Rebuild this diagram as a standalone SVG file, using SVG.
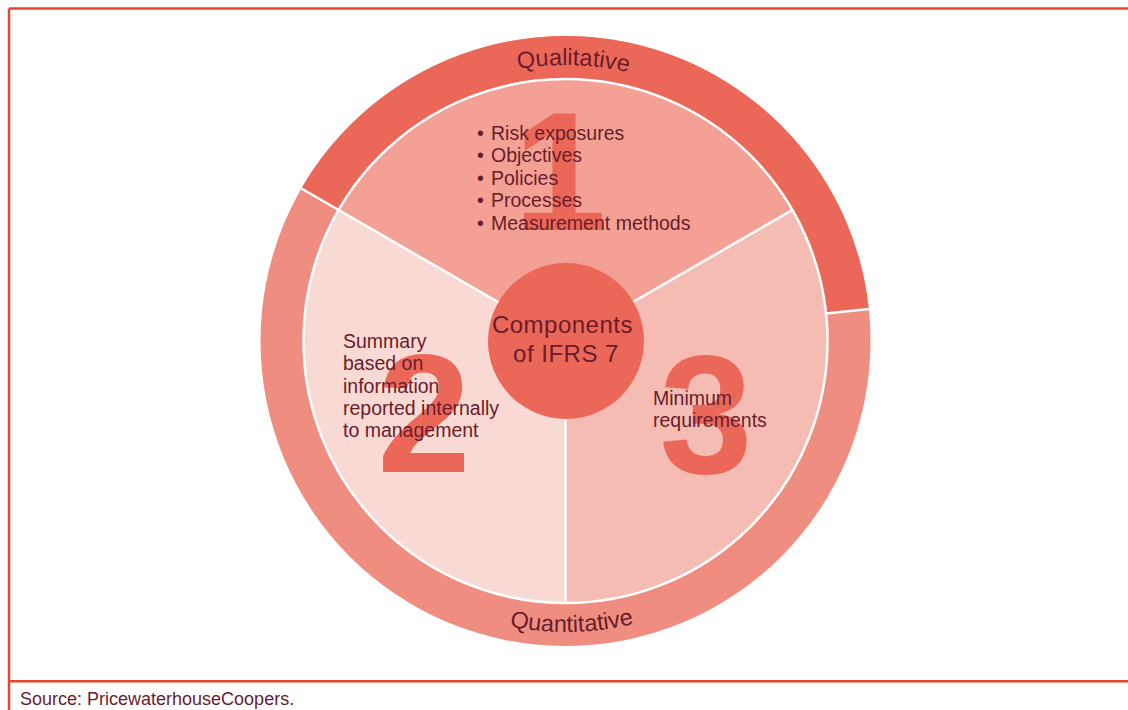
<svg xmlns="http://www.w3.org/2000/svg" width="1128" height="710" viewBox="0 0 1128 710">
  <style>
    .lbl { font-family: "Liberation Sans", Arial, sans-serif; fill: #6B1C2A; }
    .body { font-size: 19.5px; }
    .ring { font-size: 23.5px; }
    .num { font-family: "Liberation Sans", Arial, sans-serif; font-weight: bold; font-size: 168px; fill: #EB6859; text-anchor: middle; }
    .sep { stroke: #FFFFFF; stroke-width: 2.5; fill: none; }
    .frame { stroke: #E8452F; stroke-width: 2.5; fill: none; }
  </style>
  <defs>
    <path id="arcTop" d="M 289.5 341 A 276 276 0 0 1 841.5 341"/>
    <path id="arcBottom" d="M 274.5 341 A 291 291 0 0 0 856.5 341"/>
  </defs>
  <rect width="1128" height="710" fill="#FFFFFF"/>

  <g id="frame">
    <line class="frame" x1="9" y1="8.5" x2="1128" y2="8.5"/>
    <line class="frame" x1="9" y1="8.5" x2="9" y2="710"/>
    <line class="frame" x1="9" y1="681.3" x2="1128" y2="681.3"/>
  </g>

  <g id="ring">
    <circle cx="565.5" cy="341" r="305" fill="#EF8E80"/>
    <path id="ring-qualitative" d="M 301.4 188.5 A 305 305 0 0 1 868.8 309.1 L 826.1 313.6 A 262 262 0 0 0 338.6 210 Z" fill="#EB6859"/>
    <text class="lbl ring"><textPath href="#arcTop" startOffset="50.9%" text-anchor="middle">Qualitative</textPath></text>
    <text class="lbl ring"><textPath href="#arcBottom" startOffset="50.7%" text-anchor="middle">Quantitative</textPath></text>
  </g>

  <g id="segment-1">
    <path d="M 565.5 341 L 338.6 210 A 262 262 0 0 1 792.4 210 Z" fill="#F2A194"/>
  </g>
  <g id="segment-3">
    <path d="M 565.5 341 L 792.4 210 A 262 262 0 0 1 565.5 603 Z" fill="#F5BCB4"/>
  </g>
  <g id="segment-2">
    <path d="M 565.5 341 L 565.5 603 A 262 262 0 0 1 338.6 210 Z" fill="#F8D9D4"/>
  </g>

  <g id="separators">
    <circle class="sep" cx="565.5" cy="341" r="262"/>
    <line class="sep" x1="565.5" y1="341" x2="301.4" y2="188.5"/>
    <line class="sep" x1="565.5" y1="341" x2="792.4" y2="210"/>
    <line class="sep" x1="565.5" y1="341" x2="565.5" y2="603"/>
    <line class="sep" x1="826.1" y1="313.6" x2="868.8" y2="309.1"/>
  </g>

  <g id="segment-1-content">
    <text class="num" x="560" y="230">1</text>
    <text class="lbl body"><tspan x="477" y="139.5">•</tspan><tspan x="491" y="139.5">Risk exposures</tspan></text>
    <text class="lbl body"><tspan x="477" y="162">•</tspan><tspan x="491" y="162">Objectives</tspan></text>
    <text class="lbl body"><tspan x="477" y="184.5">•</tspan><tspan x="491" y="184.5">Policies</tspan></text>
    <text class="lbl body"><tspan x="477" y="207">•</tspan><tspan x="491" y="207">Processes</tspan></text>
    <text class="lbl body"><tspan x="477" y="229.5">•</tspan><tspan x="491" y="229.5">Measurement methods</tspan></text>
  </g>

  <g id="segment-2-content">
    <text class="num" x="424" y="472">2</text>
    <text class="lbl body">
      <tspan x="343" y="348">Summary</tspan>
      <tspan x="343" y="370.3">based on</tspan>
      <tspan x="343" y="392.6">information</tspan>
      <tspan x="343" y="414.9">reported internally</tspan>
      <tspan x="343" y="437.2">to management</tspan>
    </text>
  </g>

  <g id="segment-3-content">
    <text class="num" x="706" y="473">3</text>
    <text class="lbl body">
      <tspan x="653" y="405">Minimum</tspan>
      <tspan x="653" y="427">requirements</tspan>
    </text>
  </g>

  <g id="center">
    <circle cx="566" cy="341" r="78" fill="#EB6859"/>
    <text class="lbl" font-size="24" letter-spacing="0.5" text-anchor="middle">
      <tspan x="566" y="333">Components</tspan>
      <tspan x="566" y="362">of IFRS 7</tspan>
    </text>
  </g>

  <g id="source">
    <text class="lbl" font-size="18" fill="#7A2A33" x="20" y="705">Source: PricewaterhouseCoopers.</text>
  </g>
</svg>
